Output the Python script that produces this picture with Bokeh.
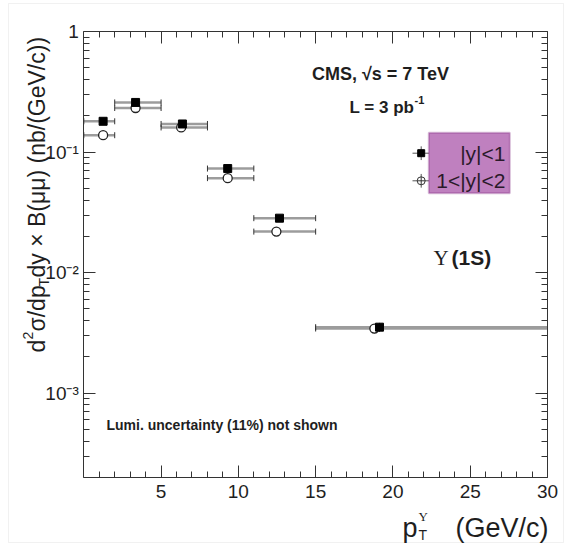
import math
from bokeh.plotting import figure
from bokeh.models import (FixedTicker, LinearAxis, LogAxis, CustomJSTickFormatter,
                          Label, BoxAnnotation, Range1d)
from bokeh.embed import file_html
from bokeh.resources import INLINE

# ---------------- data ----------------
bin_lo = [0, 2, 5, 8, 11, 15]
bin_hi = [2, 5, 8, 11, 15, 30]
pt_y1 = [1.25, 3.35, 6.38, 9.31, 12.66, 19.13]          # |y|<1 mean pT
xs_y1 = [0.180, 0.258, 0.171, 0.073, 0.0283, 0.00353]
err_y1 = [0.010, 0.012, 0.008, 0.004, 0.0015, 0.0003]
pt_y2 = [1.25, 3.35, 6.30, 9.31, 12.46, 18.80]           # 1<|y|<2 mean pT
xs_y2 = [0.138, 0.232, 0.160, 0.0608, 0.0219, 0.00344]
err_y2 = [0.011, 0.013, 0.009, 0.004, 0.0015, 0.0003]

x_lim = (0, 30)
y_lim = (2e-4, 1.0)
x_ticks = [5, 10, 15, 20, 25, 30]
x_minor = list(range(1, 30))
y_ticks = [1e-3, 1e-2, 1e-1, 1.0]
y_minor = [k * 10.0 ** e for e in (-4, -3, -2, -1) for k in range(2, 10)]

SANS = "Liberation Sans"
SERIF = "Liberation Serif"
INK = "#1e1e1e"

# ---------------- geometry (canvas pixels) ----------------
W, H = 565, 544
FL, FR, FT, FB = 83.3, 547.0, 31.0, 477.0
K = (FR - FL) / (x_lim[1] - x_lim[0])
X0 = x_lim[0] - FL / K
X1 = x_lim[1] + (W - FR) / K
D = (FB - FT) / (math.log10(y_lim[1]) - math.log10(y_lim[0]))
Y1 = 10 ** (math.log10(y_lim[1]) + FT / D)
Y0 = 10 ** (math.log10(y_lim[0]) - (H - FB) / D)


def dx(cx):
    return X0 + cx / K


def dy(cy):
    return 10 ** (math.log10(Y1) - cy / D)


p = figure(width=W, height=H, x_range=Range1d(X0, X1), y_range=Range1d(Y0, Y1),
           y_axis_type="log", output_backend="svg", toolbar_location=None,
           min_border=0)
p.grid.visible = False
p.outline_line_color = None
p.background_fill_color = "white"
p.border_fill_color = "white"


def style_axis(ax, labels=True):
    ax.axis_line_color = "#333333"
    ax.axis_line_width = 1
    ax.major_tick_line_color = "#333333"
    ax.minor_tick_line_color = "#333333"
    ax.major_tick_in = 12
    ax.major_tick_out = 0
    ax.minor_tick_in = 6
    ax.minor_tick_out = 0
    ax.major_label_text_font = SANS
    ax.major_label_text_color = INK
    if not labels:
        ax.formatter = CustomJSTickFormatter(code="return '';")
        ax.major_label_standoff = 0


xax = p.xaxis[0]
xax.ticker = FixedTicker(ticks=x_ticks, minor_ticks=x_minor)
xax.fixed_location = y_lim[0]
xax.bounds = x_lim
style_axis(xax)
xax.major_label_text_font_size = "19px"
xax.major_label_standoff = 7

yax = p.yaxis[0]
yax.ticker = FixedTicker(ticks=y_ticks, minor_ticks=y_minor)
yax.fixed_location = x_lim[0]
yax.bounds = y_lim
style_axis(yax)
yax.major_label_text_font_size = "19px"
yax.major_label_standoff = 5
yax.formatter = CustomJSTickFormatter(code="""
const e = Math.round(Math.log10(tick));
if (e === 0) return "1";
const m = {"-1": "\u207b\u00b9", "-2": "\u207b\u00b2", "-3": "\u207b\u00b3", "-4": "\u207b\u2074"};
return "10" + m[String(e)];
""")

top = LinearAxis(ticker=FixedTicker(ticks=x_ticks, minor_ticks=x_minor),
                 fixed_location=y_lim[1], bounds=x_lim)
style_axis(top, labels=False)
p.add_layout(top, "above")
right = LogAxis(ticker=FixedTicker(ticks=y_ticks, minor_ticks=y_minor),
                fixed_location=x_lim[1], bounds=y_lim)
style_axis(right, labels=False)
p.add_layout(right, "right")

# outer light frame of the picture
p.add_layout(BoxAnnotation(left=8, right=563, top=H - 3, bottom=H - 542,
                           left_units="screen", right_units="screen",
                           top_units="screen", bottom_units="screen",
                           fill_color=None, fill_alpha=0, line_color="#cfcfcf",
                           line_width=1))

# ---------------- error bars & markers ----------------
BAR = "#9c9c9c"
for pts, vals, errs in ((pt_y2, xs_y2, err_y2), (pt_y1, xs_y1, err_y1)):
    p.segment(x0=bin_lo, x1=bin_hi, y0=vals, y1=vals, line_color=BAR, line_width=2.5)
    p.scatter(x=bin_lo, y=vals, marker="dash", angle=math.pi / 2, size=6,
              line_color="#333333", line_width=1)
    p.scatter(x=bin_hi, y=vals, marker="dash", angle=math.pi / 2, size=6,
              line_color="#333333", line_width=1)
    lo = [v - e for v, e in zip(vals, errs)]
    hi = [v + e for v, e in zip(vals, errs)]
    p.segment(x0=pts, x1=pts, y0=lo, y1=hi, line_color="#222222", line_width=1)

p.scatter(x=pt_y2, y=xs_y2, marker="circle", size=9, fill_color="white",
          line_color="#222222", line_width=1.3)
p.scatter(x=pt_y1, y=xs_y1, marker="square", size=8, fill_color="black",
          line_color="black")

# ---------------- legend ----------------
p.add_layout(BoxAnnotation(left=dx(428.3), right=dx(509.3), bottom=dy(192.7), top=dy(132.3),
                           fill_color="#bf80bf", fill_alpha=1.0,
                           line_color="#7b1f7b", line_width=2))
leg_x = dx(420.7)
leg_y = [dy(152.7), dy(180.3)]
for yy in leg_y:
    p.segment(x0=[dx(412)], x1=[dx(429)], y0=[yy], y1=[yy],
              line_color="#555555", line_width=1)
    p.segment(x0=[leg_x], x1=[leg_x], y0=[yy / 1.14], y1=[yy * 1.14],
              line_color="#555555", line_width=1)
p.scatter(x=[leg_x], y=[leg_y[0]], marker="square", size=7, fill_color="black",
          line_color="black")
p.scatter(x=[leg_x], y=[leg_y[1]], marker="circle_cross", size=8, fill_color="white",
          line_color="#333333", line_width=1)
for txt, yy in (("|y|<1", leg_y[0]), ("1<|y|<2", leg_y[1])):
    p.add_layout(Label(x=dx(505), y=yy, text=txt, text_align="right", text_baseline="middle",
                       text_font=SANS, text_font_size="21px", text_color="#2a1a2a"))


# ---------------- texts ----------------
def lab(cx, cy, text, size, align="left", baseline="alphabetic", font=SANS,
        style="normal", angle=0.0):
    p.add_layout(Label(x=cx, y=H - cy, x_units="screen", y_units="screen",
                       text=text, text_font=font, text_font_size=f"{size}px",
                       text_font_style=style, text_color=INK, text_align=align,
                       text_baseline=baseline, angle=angle))


lab(380, 73, "CMS, \u221as = 7 TeV", 18, align="center", baseline="middle", style="bold")
lab(349, 107, "L = 3 pb", 17, style="bold")
lab(414, 99, "-1", 11, style="bold")
lab(106, 424, "Lumi. uncertainty (11%) not shown", 14, baseline="middle", style="bold")
lab(433, 257, "\u03a5", 21, font=SERIF)
lab(451, 257, "(1S)", 21, style="bold")

# x-axis title
lab(417, 527, "p", 27, align="right")
lab(418, 516, "\u03a5", 13, font=SERIF)
lab(418, 534, "T", 14)
lab(548, 527, "(GeV/c)", 27, align="right")

# y-axis title (rotated)
R = math.pi / 2
lab(36, 352, "d", 23, angle=R)
lab(27, 339, "2", 14, angle=R)
lab(36, 331, "\u03c3/dp", 23, angle=R)
lab(43, 286, "T", 14, angle=R)
lab(36, 277, " dy \u00d7 B(\u03bc\u03bc) (nb/(GeV/c))", 23, angle=R)

with open("out.html", "w", encoding="utf-8") as f:
    f.write(file_html(p, INLINE))
